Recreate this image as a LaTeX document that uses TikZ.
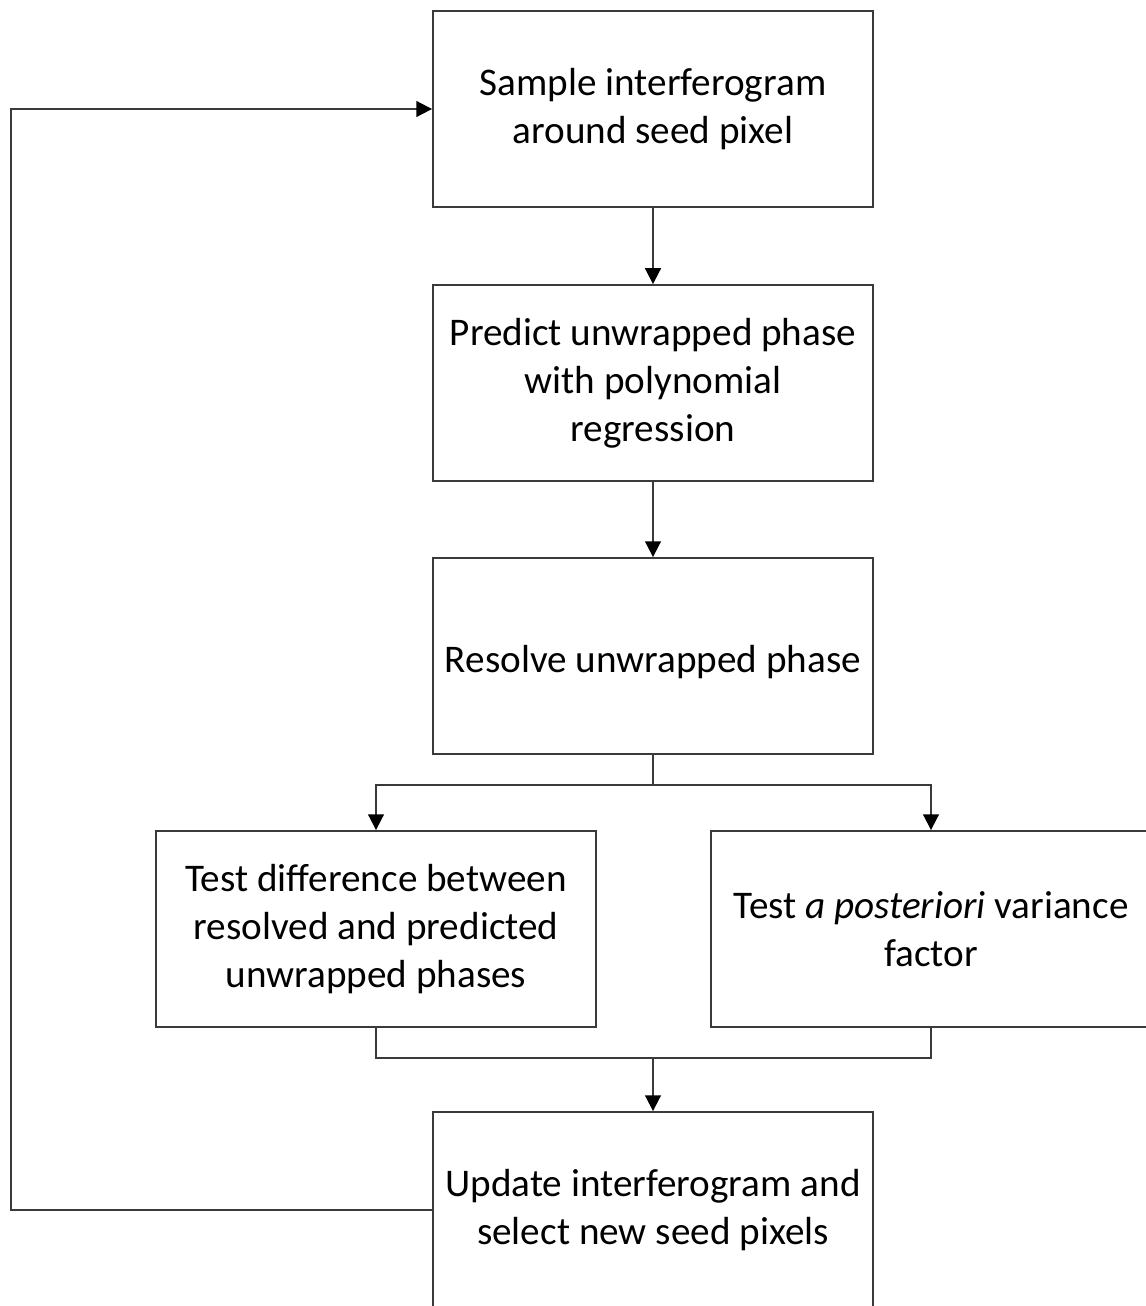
\documentclass[tikz,border=0pt]{standalone}
\usepackage{fontspec}
\setmainfont{Carlito}
\usetikzlibrary{arrows.meta}
\begin{document}
\begin{tikzpicture}[x=0.02cm,y=-0.02cm,
  stepbox/.style={draw=linegray, line width=1.1pt, fill=white,
    minimum width=8.8cm, minimum height=3.92cm, inner sep=0pt,
    align=center, font=\fontsize{22.3}{27.2}\selectfont,
    execute at begin node={\rule{0pt}{0.8cm}}},
  link/.style={draw=linegray, line width=1.1pt},
  flow/.style={link, -{Triangle[length=9pt,width=9pt,color=black]}}]
\definecolor{linegray}{HTML}{3A3A3A}
\clip (0,0) rectangle (1146,1306);
\fill[white] (0,0) rectangle (1146,1306);

\node[stepbox] (sample)  at (653,109)  {Sample interferogram\\around seed pixel};
\node[stepbox] (predict) at (653,383)  {Predict unwrapped phase\\with polynomial\\regression};
\node[stepbox] (resolve) at (653,656)  {Resolve unwrapped phase};
\node[stepbox] (diff)    at (376,929)  {Test difference between\\resolved and predicted\\unwrapped phases};
\node[stepbox] (var)     at (931,929)  {Test \textit{a posteriori} variance\\factor};
\node[stepbox] (update)  at (653,1210) {Update interferogram and\\select new seed pixels};

\coordinate (split) at (653,785);
\coordinate (merge) at (653,1058);
\coordinate (loop)  at (11,0);

\draw[flow] (sample) -- (predict);
\draw[flow] (predict) -- (resolve);
\draw[link] (resolve.south) -- (split);
\draw[flow] (split) -| (diff.north);
\draw[flow] (split) -| (var.north);
\draw[link] (diff.south) |- (merge);
\draw[link] (var.south) |- (merge);
\draw[flow] (merge) -- (update.north);
\draw[flow] (update.west) -- (update.west -| loop) |- (sample.west);
\end{tikzpicture}
\end{document}
